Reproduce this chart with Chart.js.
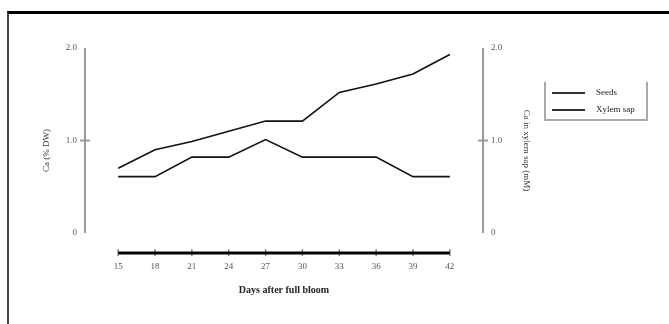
<!DOCTYPE html>
<html>
<head>
<meta charset="utf-8">
<script src="https://cdn.jsdelivr.net/npm/chart.js@4"></script>
<style>
body{margin:0;background:#fff;}
#wrap{position:relative;width:669px;height:324px;}
#frame{position:absolute;left:7px;top:11px;width:662px;height:313px;box-sizing:border-box;border-top:3px solid #000;border-left:2px solid #444;}
#legend{position:absolute;left:544px;top:82px;width:104px;height:39px;box-sizing:border-box;border-left:2px solid #aaa;border-right:2px solid #aaa;border-bottom:2px solid #aaa;font:9px "Liberation Serif",serif;color:#222;}
.row{position:absolute;left:6px;height:10px;}
.row span.ln{position:absolute;left:0;top:5px;width:33px;border-top:2px solid #333;}
.row span.tx{position:absolute;left:44px;top:0;white-space:nowrap;line-height:10px;}
</style>
</head>
<body>
<div id="wrap">
<canvas id="c" width="669" height="324"></canvas>
<div id="frame"></div>
<div id="legend">
  <div class="row" style="top:5px"><span class="ln"></span><span class="tx">Seeds</span></div>
  <div class="row" style="top:22px"><span class="ln"></span><span class="tx">Xylem sap</span></div>
</div>
</div>
<script>
let days = [15, 18, 21, 24, 27, 30, 33, 36, 39, 42];
let seeds = [0.70, 0.90, 0.99, 1.10, 1.21, 1.21, 1.52, 1.61, 1.72, 1.93];
let xylemSap = [0.61, 0.61, 0.82, 0.82, 1.01, 0.82, 0.82, 0.82, 0.61, 0.61];
let yTicks = [0, 1, 2];
let xTitle = "Days after full bloom";
let leftTitle = "Ca (% DW)";
let rightTitle = "Ca in xylem sap (mM)";

function pts(vals){
    let out = [];
    for(let i = 0; i < days.length; i++) out.push({x: days[i], y: vals[i]});
    return out;
}

let font = {family: "'Liberation Serif', serif", size: 9};

// axis lines drawn only over the data range, like the original
let axisLines = {
    id: "axisLines",
    afterDraw(chart){
        let ctx = chart.ctx;
        let x = chart.scales.x, y = chart.scales.y, y1 = chart.scales.y1;
        ctx.save();
        ctx.strokeStyle = "#999";
        ctx.lineWidth = 2;
        [[y, x.left], [y1, x.right]].forEach(function(a){
            ctx.beginPath();
            ctx.moveTo(a[1], a[0].getPixelForValue(0));
            ctx.lineTo(a[1], a[0].getPixelForValue(2));
            ctx.stroke();
            let m = a[0].getPixelForValue(1);
            ctx.beginPath();
            ctx.moveTo(a[1] - 5, m);
            ctx.lineTo(a[1] + 5, m);
            ctx.stroke();
        });
        let b = chart.chartArea.bottom;
        ctx.lineWidth = 1.5;
        ctx.strokeStyle = "#888";
        days.forEach(function(d){
            let px = x.getPixelForValue(d);
            ctx.beginPath();
            ctx.moveTo(px, b - 4);
            ctx.lineTo(px, b + 3);
            ctx.stroke();
        });
        ctx.strokeStyle = "#000";
        ctx.lineWidth = 3;
        ctx.beginPath();
        ctx.moveTo(x.getPixelForValue(days[0]), b);
        ctx.lineTo(x.getPixelForValue(days[days.length - 1]), b);
        ctx.stroke();
        ctx.restore();
    }
};

new Chart(document.getElementById("c"), {
    type: "line",
    data: {
        datasets: [{
            label: "Seeds",
            data: pts(seeds),
            borderColor: "#111",
            borderWidth: 1.6,
            pointRadius: 0,
            tension: 0,
            yAxisID: "y"
        }, {
            label: "Xylem sap",
            data: pts(xylemSap),
            borderColor: "#111",
            borderWidth: 1.6,
            pointRadius: 0,
            tension: 0,
            yAxisID: "y1"
        }]
    },
    options: {
        responsive: false,
        animation: false,
        layout: {padding: {top: 48, left: 0, right: 0, bottom: 0}},
        plugins: {legend: {display: false}, tooltip: {enabled: false}},
        scales: {
            x: {
                type: "linear",
                min: 12.3,
                max: 44.7,
                grid: {display: false, drawTicks: false},
                border: {display: false},
                afterBuildTicks: function(s){ s.ticks = days.map(function(d){ return {value: d}; }); },
                afterFit: function(s){ s.height = 71; },
                ticks: {color: "#555", font: font, padding: 8, maxRotation: 0,
                    callback: function(v){ return String(v); }},
                title: {display: true, text: xTitle, color: "#222",
                    font: {family: "'Liberation Serif', serif", size: 10, weight: "bold"},
                    padding: {top: 0, bottom: 28}}
            },
            y: {
                position: "left",
                min: -0.216,
                max: 2,
                grid: {display: false, drawTicks: false},
                border: {display: false},
                afterBuildTicks: function(s){ s.ticks = yTicks.map(function(v){ return {value: v}; }); },
                afterFit: function(s){ s.width = 85; },
                ticks: {color: "#555", font: font, padding: 8,
                    callback: function(v){ return v == 0 ? "0" : v.toFixed(1); }},
                title: {display: true, text: leftTitle, color: "#333", font: font, padding: {top: 41, bottom: 0}}
            },
            y1: {
                position: "right",
                min: -0.216,
                max: 2,
                grid: {display: false, drawTicks: false},
                border: {display: false},
                afterBuildTicks: function(s){ s.ticks = yTicks.map(function(v){ return {value: v}; }); },
                afterFit: function(s){ s.width = 186; },
                ticks: {color: "#555", font: font, padding: 8,
                    callback: function(v){ return v == 0 ? "0" : v.toFixed(1); }},
                title: {display: true, text: rightTitle, color: "#333", font: font, padding: {top: 137, bottom: 0}}
            }
        }
    },
    plugins: [axisLines]
});
</script>
</body>
</html>
